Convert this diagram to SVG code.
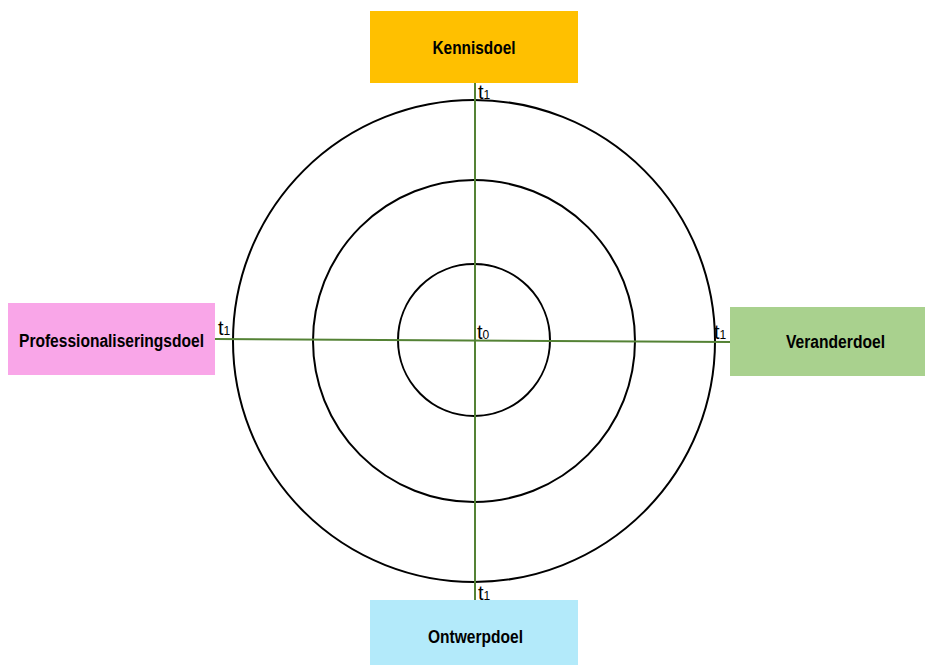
<svg xmlns="http://www.w3.org/2000/svg" width="925" height="665" viewBox="0 0 925 665">
<style>
.lbl{font-family:"Liberation Sans",Arial,sans-serif;font-weight:bold;font-size:18px;fill:#000;text-anchor:middle}
.t{font-family:"Liberation Sans",Arial,sans-serif;font-size:20px;fill:#000}
.s{font-size:12px}
.ring{fill:none;stroke:#000;stroke-width:2}
.axis{stroke:#548235;stroke-width:2;fill:none}
</style>
<rect width="925" height="665" fill="#fff"/>
<g id="rings">
<circle class="ring" cx="474" cy="341" r="241"/>
<circle class="ring" cx="474" cy="341" r="161"/>
<circle class="ring" cx="474" cy="340" r="76"/>
</g>
<g id="connectors">
<line class="axis" x1="475" y1="83" x2="475" y2="600"/>
<line class="axis" x1="215" y1="339" x2="730" y2="342"/>
</g>
<g id="kennisdoel">
<rect x="370" y="11" width="208" height="72" fill="#FFC000"/>
<text class="lbl" x="474" y="54" textLength="83" lengthAdjust="spacingAndGlyphs">Kennisdoel</text>
</g>
<g id="professionaliseringsdoel">
<rect x="8" y="303" width="207" height="72" fill="#F9A6E8"/>
<text class="lbl" x="111.5" y="347" textLength="185" lengthAdjust="spacingAndGlyphs">Professionaliseringsdoel</text>
</g>
<g id="veranderdoel">
<rect x="730" y="307" width="195" height="69" fill="#A9D18E"/>
<text class="lbl" x="835.5" y="348" textLength="99" lengthAdjust="spacingAndGlyphs">Veranderdoel</text>
</g>
<g id="ontwerpdoel">
<rect x="370" y="600" width="208" height="65" fill="#B3EAFA"/>
<text class="lbl" x="475.5" y="643" textLength="95" lengthAdjust="spacingAndGlyphs">Ontwerpdoel</text>
</g>
<g id="time-labels">
<text class="t" x="478" y="99">t<tspan class="s">1</tspan></text>
<text class="t" x="218" y="335">t<tspan class="s">1</tspan></text>
<text class="t" x="714" y="339">t<tspan class="s">1</tspan></text>
<text class="t" x="478" y="600">t<tspan class="s">1</tspan></text>
<text class="t" x="477" y="339">t<tspan class="s">0</tspan></text>
</g>
</svg>
